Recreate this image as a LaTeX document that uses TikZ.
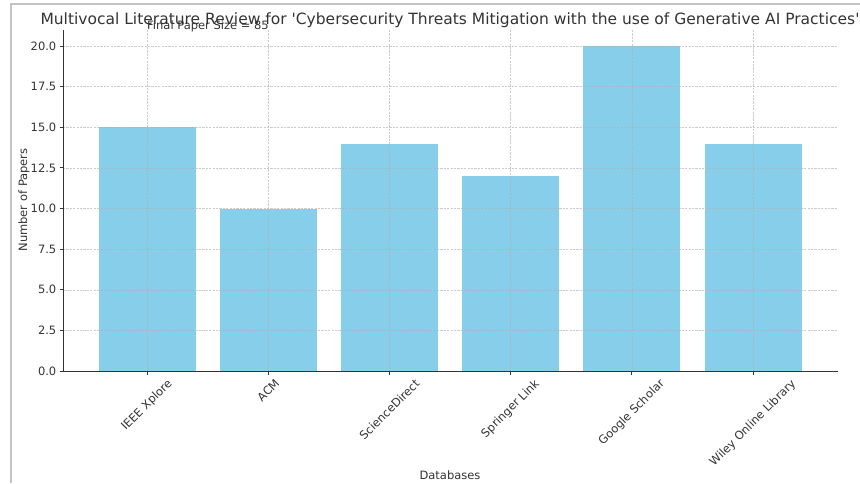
\documentclass[tikz,border=0pt]{standalone}
\usepackage{graphicx}
\usepackage{fontspec}
\setmainfont{DejaVu Sans}
\usetikzlibrary{positioning}
\definecolor{SkyBlue}{HTML}{87CEEB}
\definecolor{GridGray}{HTML}{B0B0B0}
\definecolor{TextGray}{HTML}{333333}
\definecolor{FrameGray}{HTML}{C4C4C4}

\begin{document}
\begin{tikzpicture}[x=1pt, y=-1pt, font=\fontsize{11.5}{13}\selectfont, text=TextGray,
    bar/.style={fill=SkyBlue, draw=none},
    gridline/.style={GridGray, opacity=0.65, dash pattern=on 2.2pt off 1.2pt, line width=0.5pt},
    spine/.style={TextGray, line width=0.9pt},
    ticklabel/.style={inner sep=0pt}]
        \useasboundingbox (0,0) rectangle (860,483);

        % Screenshot frame
        \draw [FrameGray, line width=2pt] (11,483) -- (11,4) -- (860,4);

        % Bars (x: 147 + 121.2 i, y: 371 - 16.25 v)
        \foreach \val [count=\i from 0] in {15,10,14,12,20,14}
            \fill [bar] ({147+121.2*\i-48.5},371) rectangle ({147+121.2*\i+48.5},{371-16.25*\val});

        % Grid over the bars
        \foreach \v in {0.0,2.5,5.0,7.5,10.0,12.5,15.0,17.5,20.0} {
            \draw [gridline] (63,{371-16.25*\v}) -- (838,{371-16.25*\v});
            \draw [spine] (59.5,{371-16.25*\v}) -- (63,{371-16.25*\v});
            \node [ticklabel, anchor=east] (yt\v) at (56.5,{371-16.25*\v}) {\v};
        }
        \foreach \name [count=\i from 0] in {IEEE Xplore, ACM, ScienceDirect, Springer Link, Google Scholar, Wiley Online Library} {
            \draw [gridline] ({147+121.2*\i},30) -- ({147+121.2*\i},371);
            \draw [spine] ({147+121.2*\i},371) -- ({147+121.2*\i},374.5);
            \node [ticklabel, anchor=north] (xt\i) at ({147+121.2*\i},378) {\rotatebox{45}{\name}};
        }

        % Axes
        \draw [spine] (63,30) -- (63,371) -- (838,371);

        % Labels
        \node [anchor=base, font=\fontsize{15.5}{18}\selectfont] (title) at (450,24.5)
            {Multivocal Literature Review for \textquotesingle Cybersecurity Threats Mitigation with the use of Generative AI Practices\textquotesingle};
        \node [anchor=base west, inner sep=0pt] (note) at (147,29.5) {Final Paper Size = 85};
        \node [rotate=90] (ylabel) at (24,200) {Number of Papers};
        \node [anchor=base] (xlabel) at (450,479) {Databases};
\end{tikzpicture}
\end{document}
